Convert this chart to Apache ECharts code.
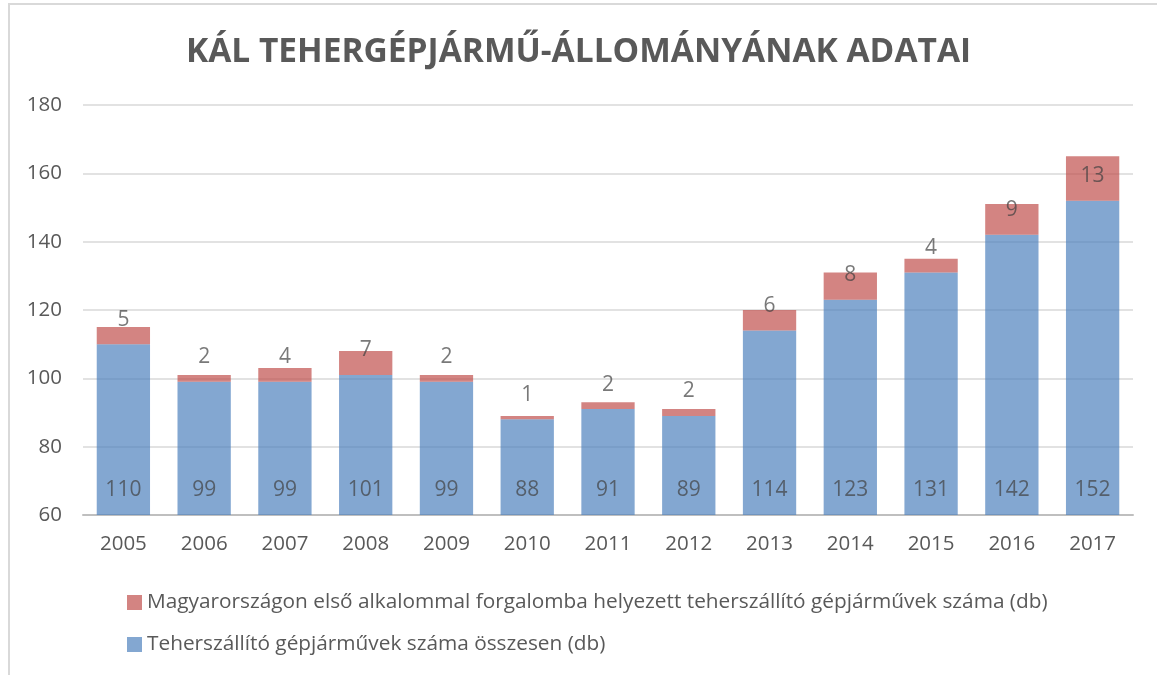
<!DOCTYPE html>
<html>
<head>
<meta charset="utf-8">
<script src="https://cdn.jsdelivr.net/npm/echarts@6/dist/echarts.min.js"></script>
<style>
html,body{margin:0;padding:0;background:#fff;}
#frame{position:absolute;left:8px;top:3px;width:1160px;height:690px;border:2px solid #D9D9D9;box-sizing:border-box;}
#main{position:absolute;left:0;top:0;width:1157px;height:675px;}
</style>
</head>
<body>
<div id="frame"></div>
<div id="main"></div>
<script>
const years = ['2005','2006','2007','2008','2009','2010','2011','2012','2013','2014','2015','2016','2017'];
const totalVehicles = [110, 99, 99, 101, 99, 88, 91, 89, 114, 123, 131, 142, 152];
const firstRegistered = [5, 2, 4, 7, 2, 1, 2, 2, 6, 8, 4, 9, 13];
const yTicks = [60, 80, 100, 120, 140, 160, 180];
const nameTotal = 'Teherszállító gépjárművek száma összesen (db)';
const nameFirst = 'Magyarországon első alkalommal forgalomba helyezett teherszállító gépjárművek száma (db)';
const titleText = 'KÁL TEHERGÉPJÁRMŰ-ÁLLOMÁNYÁNAK ADATAI';

const FONT = '"Open Sans", sans-serif';
const chart = echarts.init(document.getElementById('main'));
chart.setOption({
  animation: false,
  title: {
    text: titleText,
    left: 'center',
    top: 30,
    textStyle: {fontFamily: FONT, fontWeight: 'bold', fontSize: 33.5, color: '#595959'}
  },
  legend: {
    orient: 'vertical',
    left: 122,
    top: 587,
    itemWidth: 15,
    itemHeight: 15,
    itemGap: 21,
    icon: 'rect',
    data: [nameFirst, nameTotal],
    textStyle: {fontFamily: FONT, fontSize: 20.8, color: '#595959'}
  },
  grid: {left: 83, right: 24, top: 105, bottom: 160, containLabel: false},
  xAxis: {
    type: 'category',
    data: years,
    axisLine: {lineStyle: {color: '#BFBFBF', width: 2}},
    axisTick: {show: false},
    axisLabel: {fontFamily: FONT, fontSize: 20.5, color: '#595959', margin: 19}
  },
  yAxis: {
    type: 'value',
    min: yTicks[0],
    max: yTicks[yTicks.length - 1],
    interval: yTicks[1] - yTicks[0],
    axisLine: {show: false},
    axisTick: {show: false},
    splitLine: {lineStyle: {color: '#D9D9D9', width: 1.5}},
    axisLabel: {fontFamily: FONT, fontSize: 20.5, color: '#595959', margin: 21}
  },
  series: [
    {
      name: nameTotal,
      type: 'bar',
      stack: 'a',
      data: totalVehicles,
      barCategoryGap: '34%',
      itemStyle: {color: '#4F81BD', opacity: 0.7},
      label: {show: true, position: 'insideBottom', distance: 14, fontFamily: FONT, fontSize: 21, color: '#404040'}
    },
    {
      name: nameFirst,
      type: 'bar',
      stack: 'a',
      data: firstRegistered,
      itemStyle: {color: '#C0504D', opacity: 0.7},
      label: {show: true, position: 'insideBottom', distance: 14, fontFamily: FONT, fontSize: 21, color: '#404040'}
    }
  ]
});
</script>
</body>
</html>
